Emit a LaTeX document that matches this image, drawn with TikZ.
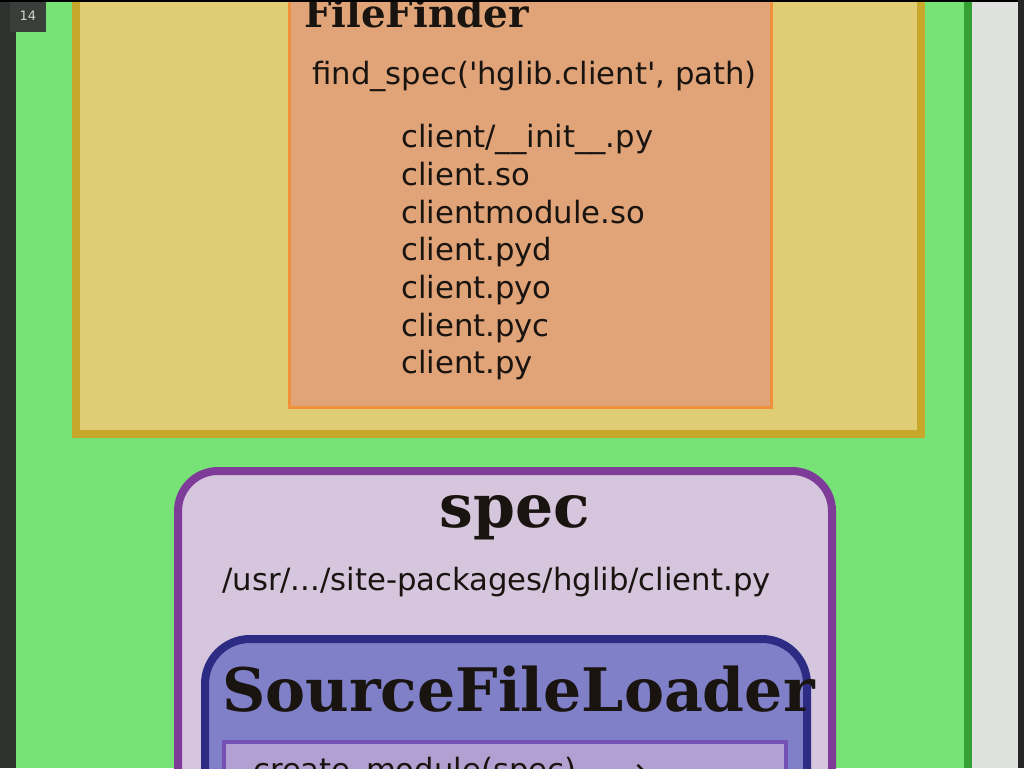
\documentclass[tikz,border=0pt]{standalone}
\usepackage{fontspec}
\setmainfont{DejaVu Sans}[Ligatures=TeXOff]
\newfontfamily\titlefont{DejaVu Serif}
\definecolor{darkstrip}{HTML}{2E3330}
\definecolor{tagfill}{HTML}{3A3E3A}
\definecolor{greenfill}{HTML}{77E377}
\definecolor{greenline}{HTML}{34A034}
\definecolor{grayfill}{HTML}{DFE1DF}
\definecolor{yellowfill}{HTML}{E0CC74}
\definecolor{yellowline}{HTML}{C8A82A}
\definecolor{orangefill}{HTML}{E0A478}
\definecolor{orangeline}{HTML}{F0903A}
\definecolor{purplefill}{HTML}{D5C5DD}
\definecolor{purpleline}{HTML}{7E3C98}
\definecolor{bluefill}{HTML}{8080C8}
\definecolor{blueline}{HTML}{2C2C84}
\definecolor{innerfill}{HTML}{B3A0D3}
\definecolor{innerline}{HTML}{7550B5}
\definecolor{ink}{HTML}{1A1410}
\tikzset{
  body/.style={font=\fontsize{30.7}{36}\selectfont, text=ink, inner sep=0pt, anchor=base west},
  bigtitle/.style={font=\titlefont\bfseries\fontsize{60}{64}\selectfont, text=ink, inner sep=0pt, anchor=base west},
  smalltitle/.style={font=\titlefont\bfseries\fontsize{38.8}{42}\selectfont, text=ink, inner sep=0pt, anchor=base west},
}
\begin{document}
\begin{tikzpicture}[x=1pt,y=-1pt]
\useasboundingbox (0,0) rectangle (1024,768);
\clip (0,0) rectangle (1024,768);
% backgrounds
\fill[darkstrip] (0,0) rectangle (1024,768);
\fill[greenfill] (16,0) rectangle (968,768);
\fill[greenline] (964,0) rectangle (972,768);
\fill[grayfill] (972,0) rectangle (1018,768);
% yellow box
\draw[yellowline, fill=yellowfill, line width=8pt] (76,-20) rectangle (921,434);
% orange box
\draw[orangeline, fill=orangefill, line width=3pt] (289.5,-20) rectangle (771.5,407.5);
\node[smalltitle] (ff) at (304,28) {FileFinder};
\node[body] (fs) at (312,84) {find\_spec('hglib.client', path)};
\node[body] (l1) at (401,147) {client/\_\_init\_\_.py};
\node[body] (l2) at (401,185) {client.so};
\node[body] (l3) at (401,223) {clientmodule.so};
\node[body] (l4) at (401,260) {client.pyd};
\node[body] (l5) at (401,298) {client.pyo};
\node[body] (l6) at (401,336) {client.pyc};
\node[body] (l7) at (401,373) {client.py};
% purple spec box
\draw[purpleline, fill=purplefill, line width=8pt, rounded corners=40pt] (178,471) rectangle (832,820);
\node[bigtitle, anchor=base] (spec) at (515,527) {spec};
\node[body] (path) at (222,590) {/usr/.../site-packages/hglib/client.py};
% blue loader box
\draw[blueline, fill=bluefill, line width=8pt, rounded corners=45pt] (205,639) rectangle (807,820);
\node[bigtitle] (sfl) at (222,711) {SourceFileLoader};
% inner box
\draw[innerline, fill=innerfill, line width=4pt] (224,742) rectangle (786,820);
\node[body] (cm) at (253,780) {create\_module(spec)};
\node[body] (arr) at (620,780) {→};
% slide number tag
\fill[tagfill] (10,0) rectangle (46,32);
\node[font=\fontsize{13}{15}\selectfont, text=white!82!black, inner sep=0pt] (num) at (28,16) {14};
\fill[black] (0,0) rectangle (1024,2);
\fill[black!85] (1018,0) rectangle (1024,768);
\end{tikzpicture}
\end{document}
